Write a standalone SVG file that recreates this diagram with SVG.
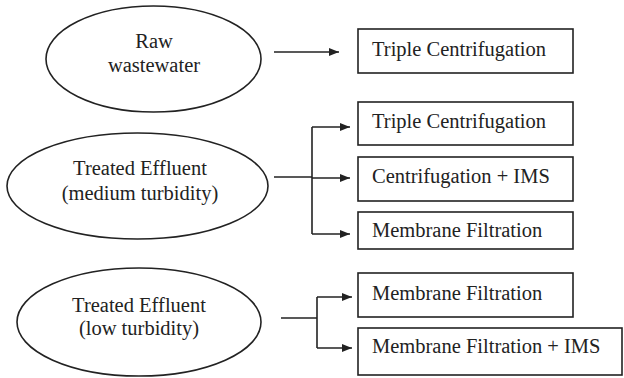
<svg xmlns="http://www.w3.org/2000/svg" width="624" height="378" viewBox="0 0 624 378">
<style>
.n{fill:#fff;stroke:#222;stroke-width:1.6}
.t{font-family:"Liberation Serif","Times New Roman",serif;font-size:20.5px;fill:#222}
.c{fill:none;stroke:#222;stroke-width:1.6}
</style>
<defs>
<marker id="ah" markerWidth="10" markerHeight="8" refX="10" refY="4" orient="auto" markerUnits="userSpaceOnUse">
<path d="M0,0 L10,4 L0,8 Z" fill="#222"/>
</marker>
</defs>
<rect width="624" height="378" fill="#fff"/>
<g id="raw">
<ellipse class="n" cx="153.5" cy="59" rx="107.5" ry="53"/>
<text class="t" x="154" y="48" text-anchor="middle">Raw</text>
<text class="t" x="154" y="72" text-anchor="middle">wastewater</text>
</g>
<g id="medium">
<ellipse class="n" cx="137.5" cy="186" rx="130.5" ry="53"/>
<text class="t" x="140" y="175" text-anchor="middle">Treated Effluent</text>
<text class="t" x="140" y="200" text-anchor="middle">(medium turbidity)</text>
</g>
<g id="low">
<ellipse class="n" cx="139" cy="322" rx="122" ry="54"/>
<text class="t" x="139" y="312" text-anchor="middle">Treated Effluent</text>
<text class="t" x="139" y="335" text-anchor="middle">(low turbidity)</text>
</g>
<g id="b1">
<rect class="n" x="358" y="29" width="215" height="44"/>
<text class="t" x="372" y="56">Triple Centrifugation</text>
</g>
<g id="b2">
<rect class="n" x="358" y="102" width="215" height="43"/>
<text class="t" x="372" y="128">Triple Centrifugation</text>
</g>
<g id="b3">
<rect class="n" x="358" y="157" width="215" height="44"/>
<text class="t" x="372" y="183">Centrifugation + IMS</text>
</g>
<g id="b4">
<rect class="n" x="358" y="212" width="215" height="37"/>
<text class="t" x="372" y="237">Membrane Filtration</text>
</g>
<g id="b5">
<rect class="n" x="358" y="273" width="215" height="44"/>
<text class="t" x="372" y="300">Membrane Filtration</text>
</g>
<g id="b6">
<rect class="n" x="358" y="328" width="264" height="47"/>
<text class="t" x="372" y="353">Membrane Filtration + IMS</text>
</g>
<g id="connectors">
<path class="c" d="M274,52 H339" marker-end="url(#ah)"/>
<path class="c" d="M274,177 H312"/>
<path class="c" d="M312,127 V234"/>
<path class="c" d="M312,127 H350" marker-end="url(#ah)"/>
<path class="c" d="M312,178 H350" marker-end="url(#ah)"/>
<path class="c" d="M312,234 H350" marker-end="url(#ah)"/>
<path class="c" d="M281,318 H317"/>
<path class="c" d="M317,297 V348"/>
<path class="c" d="M317,297 H352" marker-end="url(#ah)"/>
<path class="c" d="M317,348 H352" marker-end="url(#ah)"/>
</g>
</svg>
